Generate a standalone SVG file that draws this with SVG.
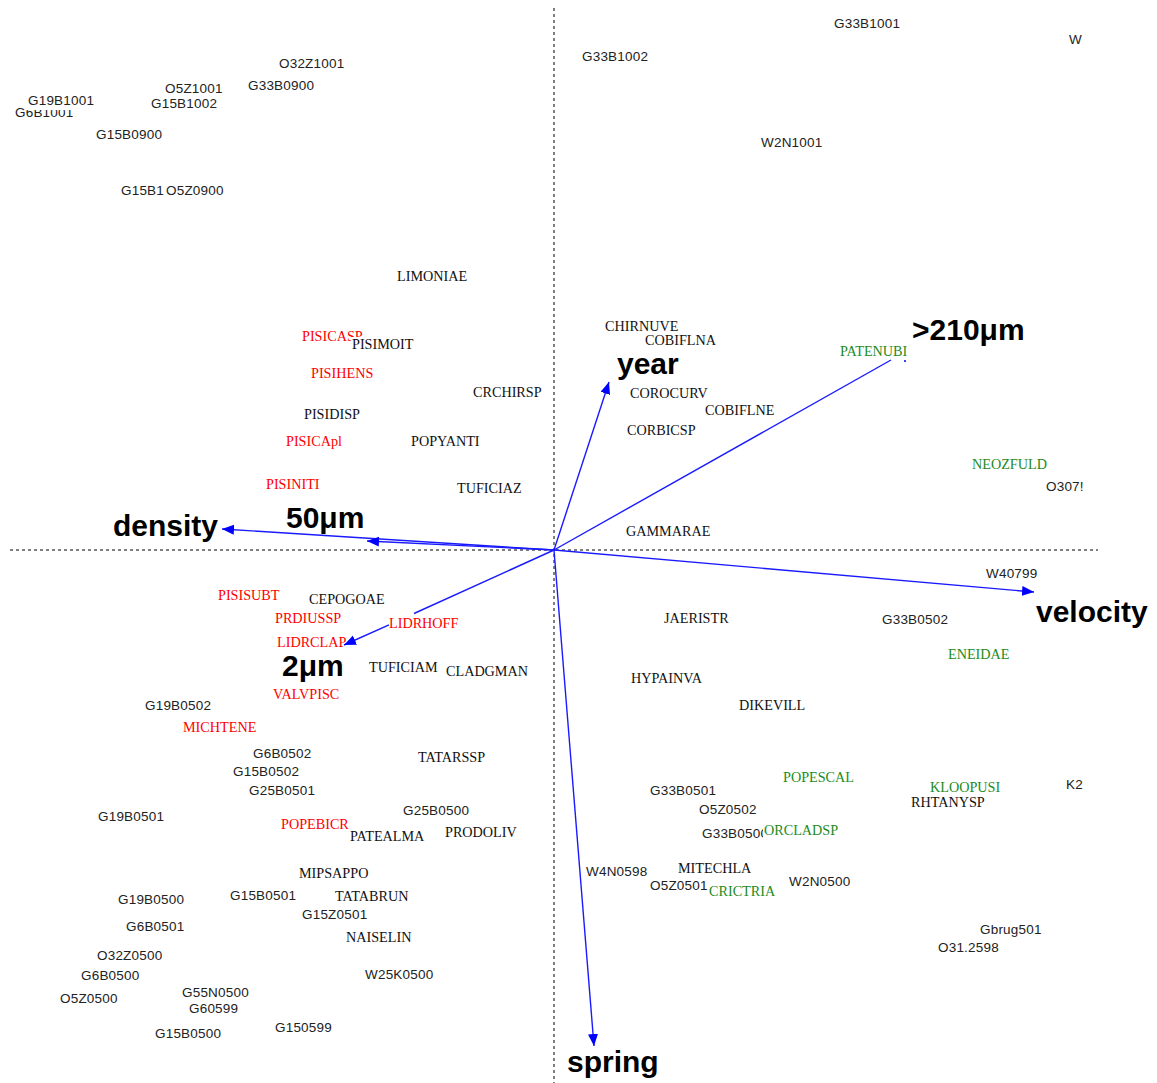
<svg xmlns="http://www.w3.org/2000/svg" width="1157" height="1083" viewBox="0 0 1157 1083">
<style>
.s{font-family:"Liberation Sans",Arial,sans-serif;font-size:13.5px;letter-spacing:0.2px;fill:#222}
.sp{font-family:"Liberation Serif","Times New Roman",serif;font-size:14.2px;fill:#111}
.r{fill:#ff0000}
.g{fill:#228b22}
.b{font-family:"Liberation Sans",Arial,sans-serif;font-size:30px;font-weight:bold;fill:#000}
.ax{stroke:#000;stroke-width:1;stroke-dasharray:3,3;fill:none}
.ar{stroke:#1a1aff;stroke-width:1.4;fill:none}
</style>
<defs>
<marker id="ah" markerUnits="userSpaceOnUse" markerWidth="13" markerHeight="11" refX="12" refY="5" orient="auto">
<path d="M0,0 L12,5 L0,10 z" fill="#0000ff"/>
</marker>
</defs>
<rect width="1157" height="1083" fill="#ffffff"/>
<g id="axes">
<line class="ax" x1="554" y1="8" x2="554" y2="1083"/>
<line class="ax" x1="10" y1="550" x2="1098" y2="550"/>
</g>
<g id="connectors">
<line class="ar" x1="554" y1="550" x2="222" y2="529" marker-end="url(#ah)"/>
<line class="ar" x1="554" y1="550" x2="367" y2="541" marker-end="url(#ah)"/>
<line class="ar" x1="554" y1="550" x2="609" y2="382" marker-end="url(#ah)"/>
<line class="ar" x1="554" y1="550" x2="891" y2="360"/>
<circle cx="905" cy="361" r="1" fill="#0000ff"/>
<line class="ar" x1="554" y1="550" x2="1034" y2="592" marker-end="url(#ah)"/>
<line class="ar" x1="554" y1="550" x2="594" y2="1046" marker-end="url(#ah)"/>
<line class="ar" x1="554" y1="550" x2="414" y2="613.5"/>
<line class="ar" x1="389" y1="624.8" x2="344" y2="645" marker-end="url(#ah)"/>
</g>
<g id="vectors">
<g id="v-density"><text class="b" x="113" y="536">density</text></g>
<g id="v-50um"><text class="b" x="286" y="528">50μm</text></g>
<g id="v-2um"><text class="b" x="282" y="676">2μm</text></g>
<g id="v-year"><text class="b" x="617" y="374">year</text></g>
<g id="v-210um"><text class="b" x="912" y="340">&gt;210μm</text></g>
<g id="v-velocity"><text class="b" x="1036" y="622">velocity</text></g>
<g id="v-spring"><text class="b" x="567" y="1072">spring</text></g>
</g>
<g id="samples">
<g id="n-G33B1001"><text class="s" x="834" y="28">G33B1001</text></g>
<g id="n-W"><text class="s" x="1069" y="44">W</text></g>
<g id="n-G33B1002"><text class="s" x="582" y="61">G33B1002</text></g>
<g id="n-W2N1001"><text class="s" x="761" y="147">W2N1001</text></g>
<g id="n-O32Z1001"><text class="s" x="279" y="68">O32Z1001</text></g>
<g id="n-G33B0900"><text class="s" x="248" y="90">G33B0900</text></g>
<g id="n-O5Z1001"><text class="s" x="165" y="93">O5Z1001</text></g>
<g id="n-G15B1002"><text class="s" x="151" y="108">G15B1002</text></g>
<g id="n-G6B1001"><text class="s" x="15" y="117">G6B1001</text></g>
<g id="n-G19B1001"><rect x="25" y="93" width="72" height="17" fill="#fff"/><text class="s" x="28" y="105">G19B1001</text></g>
<g id="n-G15B0900"><text class="s" x="96" y="139">G15B0900</text></g>
<g id="n-G15B1"><text class="s" x="121" y="195">G15B1</text></g>
<g id="n-O5Z0900"><text class="s" x="166" y="195">O5Z0900</text></g>
<g id="n-O307"><text class="s" x="1046" y="491">O307!</text></g>
<g id="n-W40799"><text class="s" x="986" y="578">W40799</text></g>
<g id="n-G33B0502"><text class="s" x="882" y="624">G33B0502</text></g>
<g id="n-G19B0502"><text class="s" x="145" y="710">G19B0502</text></g>
<g id="n-G6B0502"><text class="s" x="253" y="758">G6B0502</text></g>
<g id="n-G15B0502"><text class="s" x="233" y="776">G15B0502</text></g>
<g id="n-G25B0501"><text class="s" x="249" y="795">G25B0501</text></g>
<g id="n-G19B0501"><text class="s" x="98" y="821">G19B0501</text></g>
<g id="n-G25B0500"><text class="s" x="403" y="815">G25B0500</text></g>
<g id="n-G19B0500"><text class="s" x="118" y="904">G19B0500</text></g>
<g id="n-G15B0501"><text class="s" x="230" y="900">G15B0501</text></g>
<g id="n-G15Z0501"><text class="s" x="302" y="919">G15Z0501</text></g>
<g id="n-G6B0501"><text class="s" x="126" y="931">G6B0501</text></g>
<g id="n-O32Z0500"><text class="s" x="97" y="960">O32Z0500</text></g>
<g id="n-G6B0500"><text class="s" x="81" y="980">G6B0500</text></g>
<g id="n-W25K0500"><text class="s" x="365" y="979">W25K0500</text></g>
<g id="n-O5Z0500"><text class="s" x="60" y="1003">O5Z0500</text></g>
<g id="n-G55N0500"><text class="s" x="182" y="997">G55N0500</text></g>
<g id="n-G60599"><text class="s" x="189" y="1013">G60599</text></g>
<g id="n-G15B0500"><text class="s" x="155" y="1038">G15B0500</text></g>
<g id="n-G150599"><text class="s" x="275" y="1032">G150599</text></g>
<g id="n-K2"><text class="s" x="1066" y="789">K2</text></g>
<g id="n-G33B0501"><text class="s" x="650" y="795">G33B0501</text></g>
<g id="n-O5Z0502"><text class="s" x="699" y="814">O5Z0502</text></g>
<g id="n-G33B0500"><text class="s" x="702" y="838">G33B0500</text></g>
<g id="n-W4N0598"><text class="s" x="586" y="876">W4N0598</text></g>
<g id="n-O5Z0501"><text class="s" x="650" y="890">O5Z0501</text></g>
<g id="n-W2N0500"><text class="s" x="789" y="886">W2N0500</text></g>
<g id="n-Gbrug501"><text class="s" x="980" y="934">Gbrug501</text></g>
<g id="n-O31.2598"><text class="s" x="938" y="952">O31.2598</text></g>
</g>
<g id="species">
<g id="n-LIMONIAE"><text class="sp" x="397" y="281">LIMONIAE</text></g>
<g id="n-PISICASP"><text class="sp r" x="302" y="341">PISICASP</text></g>
<g id="n-PISIMOIT"><rect x="351" y="337" width="66" height="15" fill="#fff"/><text class="sp" x="352" y="349">PISIMOIT</text></g>
<g id="n-PISIHENS"><text class="sp r" x="311" y="378">PISIHENS</text></g>
<g id="n-CRCHIRSP"><text class="sp" x="473" y="397">CRCHIRSP</text></g>
<g id="n-PISIDISP"><text class="sp" x="304" y="419">PISIDISP</text></g>
<g id="n-PISICApl"><text class="sp r" x="286" y="446">PISICApl</text></g>
<g id="n-POPYANTI"><text class="sp" x="411" y="446">POPYANTI</text></g>
<g id="n-PISINITI"><text class="sp r" x="266" y="489">PISINITI</text></g>
<g id="n-TUFICIAZ"><text class="sp" x="457" y="493">TUFICIAZ</text></g>
<g id="n-CHIRNUVE"><text class="sp" x="605" y="331">CHIRNUVE</text></g>
<g id="n-COBIFLNA"><text class="sp" x="645" y="345">COBIFLNA</text></g>
<g id="n-PATENUBI"><text class="sp g" x="840" y="356">PATENUBI</text></g>
<g id="n-COROCURV"><text class="sp" x="630" y="398">COROCURV</text></g>
<g id="n-COBIFLNE"><text class="sp" x="705" y="415">COBIFLNE</text></g>
<g id="n-CORBICSP"><text class="sp" x="627" y="435">CORBICSP</text></g>
<g id="n-NEOZFULD"><text class="sp g" x="972" y="469">NEOZFULD</text></g>
<g id="n-GAMMARAE"><text class="sp" x="626" y="536">GAMMARAE</text></g>
<g id="n-JAERISTR"><text class="sp" x="664" y="623">JAERISTR</text></g>
<g id="n-ENEIDAE"><text class="sp g" x="948" y="659">ENEIDAE</text></g>
<g id="n-HYPAINVA"><text class="sp" x="631" y="683">HYPAINVA</text></g>
<g id="n-DIKEVILL"><text class="sp" x="739" y="710">DIKEVILL</text></g>
<g id="n-PISISUBT"><text class="sp r" x="218" y="600">PISISUBT</text></g>
<g id="n-CEPOGOAE"><text class="sp" x="309" y="604">CEPOGOAE</text></g>
<g id="n-PRDIUSSP"><text class="sp r" x="275" y="623">PRDIUSSP</text></g>
<g id="n-LIDRHOFF"><text class="sp r" x="389" y="628">LIDRHOFF</text></g>
<g id="n-LIDRCLAP"><text class="sp r" x="277" y="647">LIDRCLAP</text></g>
<g id="n-TUFICIAM"><text class="sp" x="369" y="672">TUFICIAM</text></g>
<g id="n-CLADGMAN"><text class="sp" x="446" y="676">CLADGMAN</text></g>
<g id="n-VALVPISC"><text class="sp r" x="273" y="699">VALVPISC</text></g>
<g id="n-MICHTENE"><text class="sp r" x="183" y="732">MICHTENE</text></g>
<g id="n-TATARSSP"><text class="sp" x="418" y="762">TATARSSP</text></g>
<g id="n-POPEBICR"><text class="sp r" x="281" y="829">POPEBICR</text></g>
<g id="n-PATEALMA"><text class="sp" x="350" y="841">PATEALMA</text></g>
<g id="n-PRODOLIV"><text class="sp" x="445" y="837">PRODOLIV</text></g>
<g id="n-MIPSAPPO"><text class="sp" x="299" y="878">MIPSAPPO</text></g>
<g id="n-TATABRUN"><text class="sp" x="335" y="901">TATABRUN</text></g>
<g id="n-NAISELIN"><text class="sp" x="346" y="942">NAISELIN</text></g>
<g id="n-POPESCAL"><text class="sp g" x="783" y="782">POPESCAL</text></g>
<g id="n-KLOOPUSI"><text class="sp g" x="930" y="792">KLOOPUSI</text></g>
<g id="n-RHTANYSP"><text class="sp" x="911" y="807">RHTANYSP</text></g>
<g id="n-ORCLADSP"><rect x="763" y="823" width="76" height="16" fill="#fff"/><text class="sp g" x="764" y="835">ORCLADSP</text></g>
<g id="n-MITECHLA"><text class="sp" x="678" y="873">MITECHLA</text></g>
<g id="n-CRICTRIA"><text class="sp g" x="709" y="896">CRICTRIA</text></g>
</g>
</svg>
